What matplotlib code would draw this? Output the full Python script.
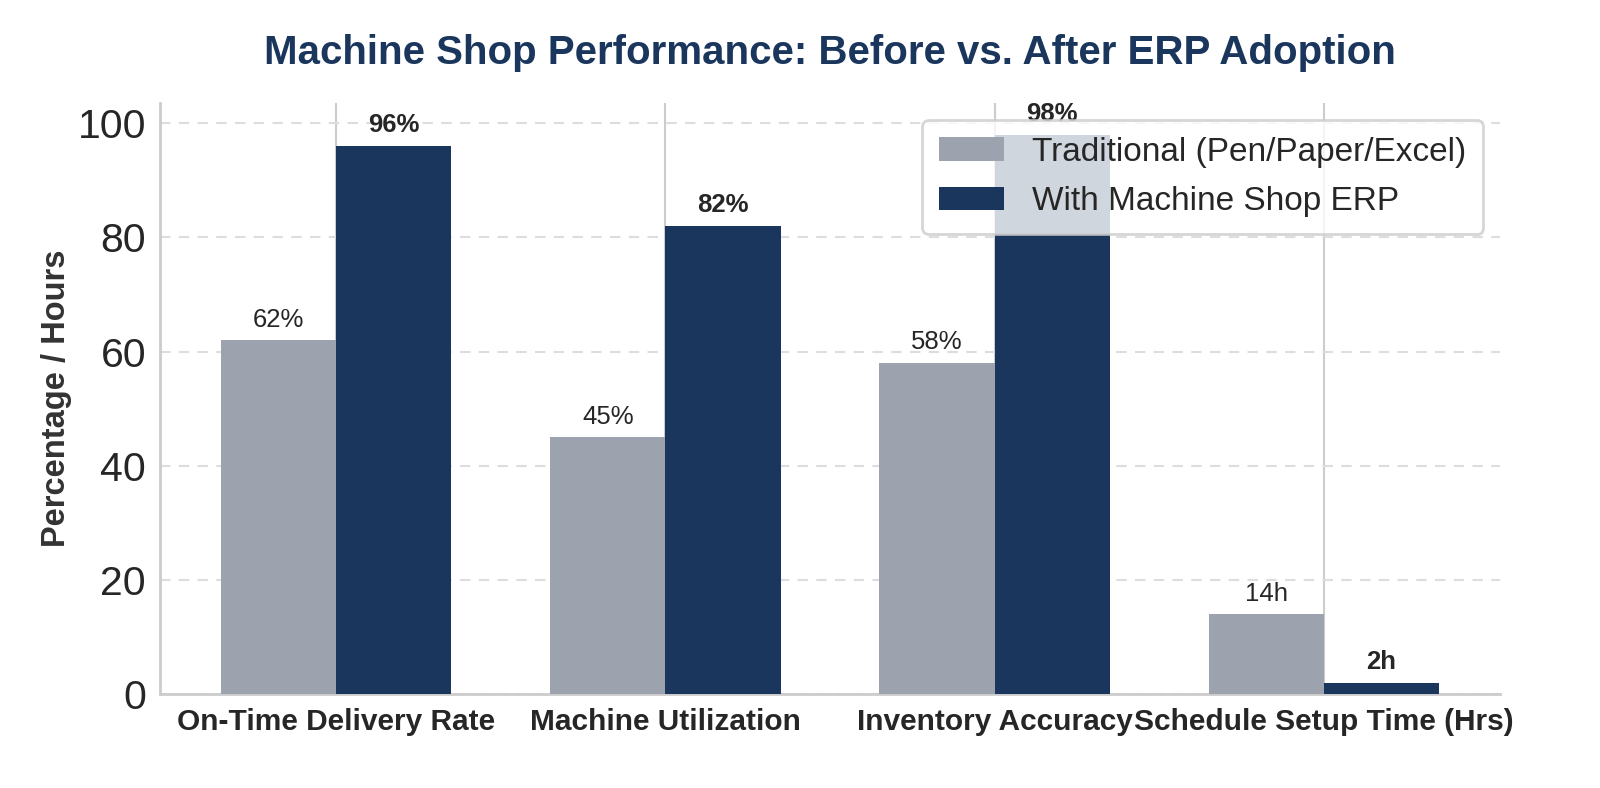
import matplotlib
matplotlib.use("Agg")
import matplotlib.pyplot as plt
import numpy as np

categories = ["On-Time Delivery Rate", "Machine Utilization", "Inventory Accuracy", "Schedule Setup Time (Hrs)"]
traditional = [62, 45, 58, 14]
erp = [96, 82, 98, 2]
trad_labels = ["62%", "45%", "58%", "14h"]
erp_labels = ["96%", "82%", "98%", "2h"]
series_names = ["Traditional (Pen/Paper/Excel)", "With Machine Shop ERP"]
yticks = [0, 20, 40, 60, 80, 100]

plt.rcParams['font.family'] = ['Liberation Sans', 'DejaVu Sans']

fig = plt.figure(figsize=(16, 7.88), dpi=100)
ax = fig.add_axes([0.1, 0.119, 0.8375, 0.75])

x = np.arange(len(categories))
w = 0.35
gray = "#9CA3AF"
navy = "#1B365D"
ax.bar(x - w/2, traditional, w, color=gray, label=series_names[0], zorder=3)
ax.bar(x + w/2, erp, w, color=navy, label=series_names[1], zorder=3)

for xi, h, t in zip(x - w/2, traditional, trad_labels):
    ax.text(xi, h + 1.5, t, ha='center', va='bottom', fontsize=18.5, color='#262626', zorder=4)
for xi, h, t in zip(x + w/2, erp, erp_labels):
    ax.text(xi, h + 1.5, t, ha='center', va='bottom', fontsize=18.5, fontweight='bold', color='#262626', zorder=4)

ax.set_ylim(0, 103.5)
ax.set_yticks(yticks)
ax.set_xticks(x)
ax.set_xticklabels(categories, fontsize=21.5, fontweight='bold', color='#262626')
ax.tick_params(axis='y', labelsize=29.5, labelcolor='#262626', length=0, pad=10)
ax.tick_params(axis='x', length=0, pad=10)

ax.set_ylabel("Percentage / Hours", fontsize=23.5, fontweight='bold', color='#333333', labelpad=4)
ax.set_title("Machine Shop Performance: Before vs. After ERP Adoption", fontsize=29, fontweight='bold', color=navy, pad=28)

ax.set_axisbelow(True)
ax.xaxis.grid(True, color='#cccccc', linewidth=1.5, linestyle='-')
ax.yaxis.grid(True, color='#dddddd', linewidth=1.5, linestyle=(0, (5, 4)))
for s in ['top', 'right']:
    ax.spines[s].set_visible(False)
for s in ['left', 'bottom']:
    ax.spines[s].set_color('#cccccc')
    ax.spines[s].set_linewidth(2)

leg = ax.legend(loc='upper right', fontsize=24, frameon=True, framealpha=0.8,
                edgecolor='#cccccc', fancybox=True, borderpad=0.5, labelspacing=0.55,
                handlelength=1.95, handletextpad=0.85)
leg.get_frame().set_linewidth(2)
for t in leg.get_texts():
    t.set_color('#262626')

fig.savefig("out.png", dpi=100)
